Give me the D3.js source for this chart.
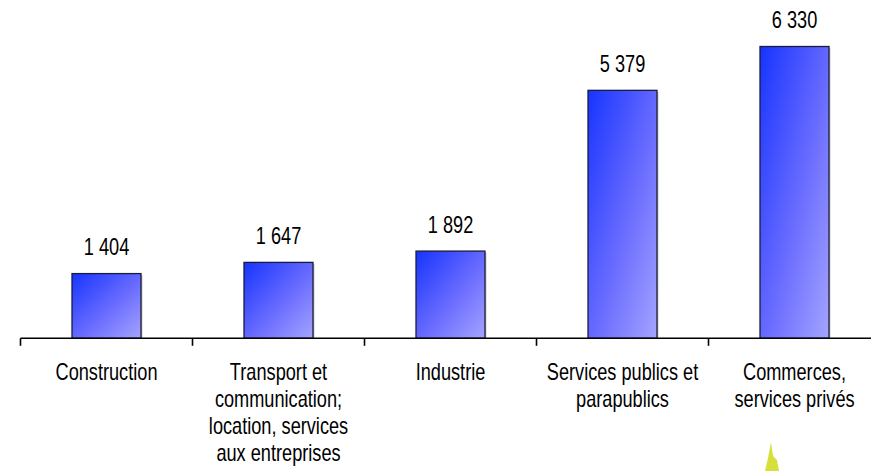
<!DOCTYPE html>
<html>
<head>
<meta charset="utf-8">
<script src="https://cdn.jsdelivr.net/npm/d3@7"></script>
<style>
  html, body { margin: 0; padding: 0; background: #ffffff; }
  svg { display: block; }
</style>
</head>
<body>
<svg id="chart" width="871" height="471"></svg>
<script>
const categories = ["Construction", "Transport et communication; location, services aux entreprises", "Industrie", "Services publics et parapublics", "Commerces, services privés"];
const categoryLines = [
  ["Construction"],
  ["Transport et", "communication;", "location, services", "aux entreprises"],
  ["Industrie"],
  ["Services publics et", "parapublics"],
  ["Commerces,", "services privés"]
];
const values = [1404, 1647, 1892, 5379, 6330];
const valueLabels = ["1 404", "1 647", "1 892", "5 379", "6 330"];

const svg = d3.select("#chart");
const x0 = 20.5, bandW = 172, baseY = 338.3;
const x = d3.scaleBand().domain(categories).range([x0, x0 + bandW * categories.length]).paddingInner(0).paddingOuter(0);
const y = d3.scaleLinear().domain([0, 6330]).range([baseY, 46.5]);
const barW = 69;
const font = "'Liberation Sans', Arial, sans-serif";
const fs = 23;
const sx = 0.79;

const defs = svg.append("defs");
const grad = defs.append("linearGradient").attr("id", "barGrad")
  .attr("x1", 0).attr("y1", 0).attr("x2", 1).attr("y2", 1);
grad.append("stop").attr("offset", "0%").attr("stop-color", "#1634ff");
grad.append("stop").attr("offset", "55%").attr("stop-color", "#6a6cff");
grad.append("stop").attr("offset", "100%").attr("stop-color", "#a4a4ff");

const g = svg.append("g");

// shadows
g.selectAll("rect.shadow").data(values).enter().append("rect")
  .attr("class", "shadow")
  .attr("x", (d, i) => x(categories[i]) + x.bandwidth() / 2 - barW / 2 + 1.5)
  .attr("y", d => y(d) + 1.5)
  .attr("width", barW)
  .attr("height", d => baseY - y(d) - 1.5)
  .attr("fill", "#c8c8c8");

// bars
g.selectAll("rect.bar").data(values).enter().append("rect")
  .attr("class", "bar")
  .attr("x", (d, i) => x(categories[i]) + x.bandwidth() / 2 - barW / 2)
  .attr("y", d => y(d))
  .attr("width", barW)
  .attr("height", d => baseY - y(d))
  .attr("fill", "url(#barGrad)")
  .attr("stroke", "#1c1c3a")
  .attr("stroke-width", 1.3);

// axis line
g.append("line")
  .attr("x1", x0).attr("x2", x0 + bandW * categories.length)
  .attr("y1", baseY).attr("y2", baseY)
  .attr("stroke", "#000").attr("stroke-width", 1.6);

// ticks at band boundaries
const tickPos = d3.range(categories.length + 1).map(i => x0 + i * bandW);
g.selectAll("line.tick").data(tickPos).enter().append("line")
  .attr("class", "tick")
  .attr("x1", d => d).attr("x2", d => d)
  .attr("y1", baseY).attr("y2", baseY + 7.5)
  .attr("stroke", "#000").attr("stroke-width", 1.6);

// value labels
g.selectAll("text.val").data(values).enter().append("text")
  .attr("class", "val")
  .attr("transform", (d, i) => `translate(${x(categories[i]) + x.bandwidth() / 2},${y(d) - 18.5}) scale(${sx},1)`)
  .attr("text-anchor", "middle")
  .attr("font-family", font)
  .attr("font-size", fs)
  .attr("fill", "#000")
  .text((d, i) => valueLabels[i]);

// category labels
categoryLines.forEach((lines, i) => {
  const cx = x(categories[i]) + x.bandwidth() / 2;
  lines.forEach((ln, j) => {
    g.append("text")
      .attr("transform", `translate(${cx},${380 + j * 27}) scale(${sx},1)`)
      .attr("text-anchor", "middle")
      .attr("font-family", font)
      .attr("font-size", fs)
      .attr("fill", "#000")
      .text(ln);
  });
});

// faint logo artifact bottom right
svg.append("path")
  .attr("d", "M771,442 L773,456 L777,460 L779,471 L765,471 L768,458 Z")
  .attr("fill", "#cdd80a")
  .attr("opacity", 0.8);
</script>
</body>
</html>
